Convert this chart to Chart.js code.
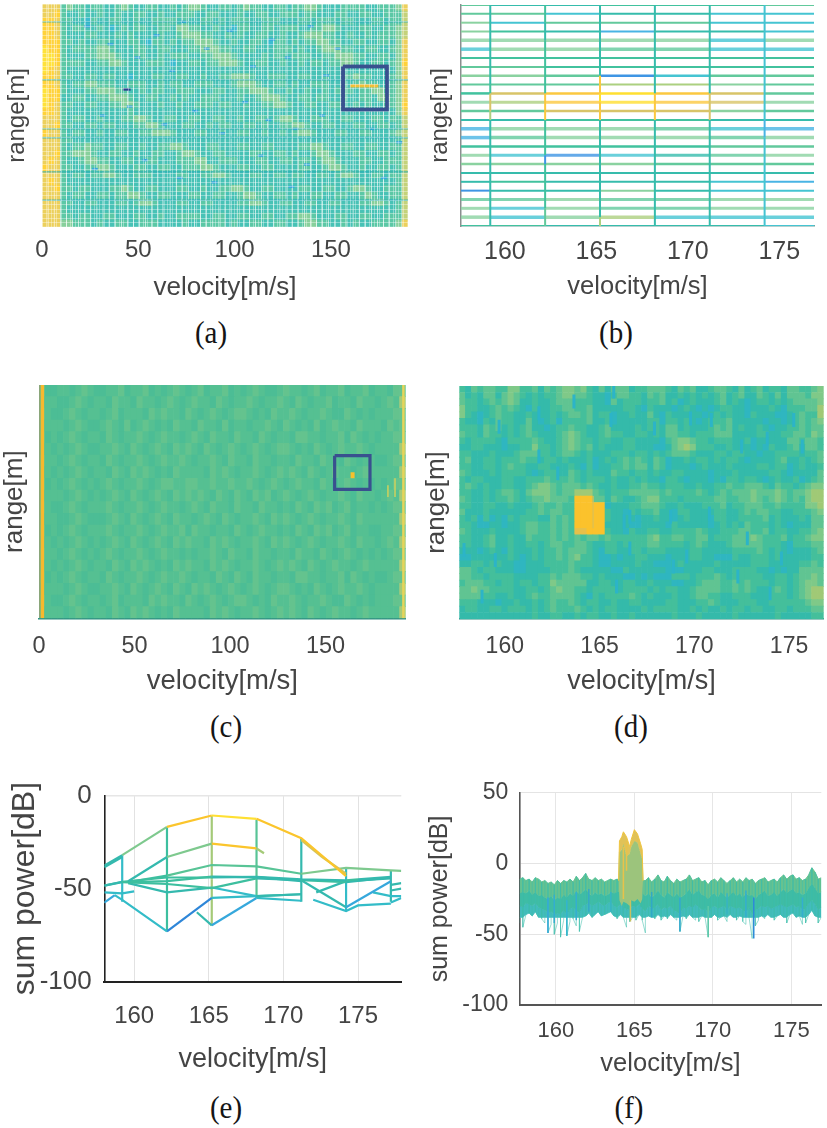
<!DOCTYPE html>
<html><head><meta charset="utf-8">
<style>
html,body{margin:0;padding:0;background:#fff;width:827px;height:1128px;overflow:hidden}
canvas{position:absolute;display:block;filter:blur(.7px)}
.cap{position:absolute;font:29px "Liberation Serif",serif;color:#151515;transform:translate(-50%,-50%) scaleY(1.08);line-height:1}
</style>
<script src="https://cdn.jsdelivr.net/npm/chart.js"></script>
</head><body>
<div class="cap" style="left:211px;top:333px">(a)</div>
<div class="cap" style="left:616px;top:333px">(b)</div>
<div class="cap" style="left:226px;top:727px">(c)</div>
<div class="cap" style="left:631px;top:727px">(d)</div>
<div class="cap" style="left:226px;top:1108px">(e)</div>
<div class="cap" style="left:629px;top:1108px">(f)</div>
<script>
const palette={'0':'#2e86d8','1':'#36a8dc','2':'#33bcc8','3':'#34b9ae','4':'#3dbf9f','5':'#58c496','6':'#7ec98e','7':'#a4ca78','8':'#d4c45a','9':'#fbc52c','a':'#ffe033'};
const paletteA={'2':'#3cbcd0','3':'#48c2b6','4':'#5cc8a6','5':'#88d09c','6':'#a4d48c','7':'#c4d27a','8':'#ecd05c','9':'#ffd23a','a':'#ffe23a'};
const paletteB={'0':'#3f95e4','1':'#48b4e4','2':'#45c4d2','3':'#36bcac','4':'#42c29e','5':'#62c99c','6':'#8ad2a0','7':'#acd080','8':'#d8c468','9':'#fbc840','a':'#ffdf30'};
const paletteC={'3':'#47bb98','4':'#4cbd95','5':'#55c092','6':'#64c38e'};
const paletteD={'2':'#2fb6c0','3':'#34baaa','4':'#44bf9b','5':'#60c492','6':'#7fc988','7':'#a0c976','8':'#e6c04a','9':'#fbc22c'};

const ticksA=[0,50,100,150], ticksF=[160,165,170,175];
const heatA=[
"8884544344 3345433443 3434554334 4345443344 3445543334 4443344458",
"8894334334 3343344334 3344433443 3343344334 4434433344 3344334447",
"9984433243 3443343344 4434334434 3444334443 3344344434 4333443447",
"9984344334 3234344334 4355443343 3244334434 4433445543 3344334457",
"9984333443 3343433334 3345554433 4343344334 3345554433 4334344457",
"9994434334 4333443244 3434455543 3433443244 3434455443 3443344358",
"a994344445 5433344334 4333445554 4334433344 4343345554 4334433458",
"aa94333445 5543344334 3444334455 5433334344 3444334455 5443344358",
"aa94444334 4554333444 3233443445 5543344334 3343443445 5433443459",
"a984333333 3333333333 3333333333 3333333333 3333333333 3333333358",
"9984433443 4433233344 3344334334 4555433444 3344334334 4544333458",
"9984344554 4433444334 3443344433 3455543344 3433444334 3454433458",
"a994333445 5544334344 3344433344 3344555433 4334334344 4344554458",
"a993344334 4555433443 3434334443 3343345554 3344344334 3344355458",
"a984433443 3445543334 3343344434 4334334455 4334433443 3434334459",
"9984333333 3333433333 3333333333 3333333333 3333333333 3333333358",
"8884344334 3334455433 4433443344 3343344345 5433444334 4333443447",
"8894433443 4433344554 3334433434 4334434334 4554334433 3443344347",
"9884344334 3344334455 5433344334 3344334334 3455433344 3344333457",
"8884433333 3333333333 3333333333 3333333333 3333333333 3333333347",
"8884344544 3344334334 4554333443 3344334433 3344554334 4334433447",
"8894455543 3443343344 3345543344 3333443344 3433455433 3443344347",
"8984334554 4334433443 3344455334 4433344334 4344345543 3344334447",
"9884433445 5433344334 4334445543 3344334433 3344334554 3343344347",
"8884344344 5543344433 3344334455 4333443344 3443344345 5433443447",
"8984333333 3333333333 3333333333 3333333333 3333333333 3333333347",
"8894434433 3445433443 3344334334 4554334433 3344334433 4554334447",
"8884344334 4344554334 4333443344 3345543344 3433443344 3345433447",
"8884433443 3344345543 3344334433 3344554334 4334433443 3344554347",
"8884333333 3333333333 3333333333 3333333333 3333333333 3333333347",
"8884434433 4433344334 3344443344 3344334433 4455433344 3344334447",
"8885544434 3344334443 3334334444 3433443344 3345544334 3433444458"
];
const specksXA=[22,34,48,58,66,72,84,96,108,118,126,138,146,152,30,44,62,78,92,104,116,130,144,170,184,26,52,70,88,112,128,136,176];
const specksYA=[90,82,76,86,70,92,80,88,72,84,76,90,68,80,50,54,46,52,42,56,48,44,50,44,38,26,30,22,20,32,18,28,22];
const heatC=[
"5445545654 4556455645 4565456455 6454565445 6554564556 4556455466",
"4554456545 5465546554 5654565546 5455654556 5465455645 5465545657",
"5544565455 4564555465 6554654565 4566545465 5654556544 6545455566",
"4555456544 5654645654 5465546554 6455455654 6545464565 5465554656",
"5454565455 4654556545 6554565465 5465546545 5466554556 4654545566",
"4545456544 5565465456 5465654654 5654565456 6545465456 5565455557",
"5554565455 4654556545 6556545565 4655465545 5465546554 6545544566",
"4545456545 5465465654 5465555465 6545565456 5654654565 5456555557",
"5454565454 5654556545 6655665565 5655654565 4565546545 6545454566",
"4555456545 4565465456 5465656546 5465465645 6545654556 5465545657",
"5544565455 5654556545 6554565465 5465546554 5465465645 6455454566",
"4554456544 4565465456 5465545654 6545565465 6545654556 5465555557",
"5454565455 5654556545 6556465545 5465456554 5465465645 6455445566",
"4545456545 4565465456 5465655465 6545565465 6545654556 5465545657",
"5554565454 5654556545 6554545565 4655465545 5465546545 6545454566",
"4545456545 5465465654 5465655465 6545565456 5654654565 5456555557",
"5454565455 4654556545 6556545546 5465465545 5466554556 4654544566",
"4555456544 5565465456 5465465654 5654565456 6545465456 5565455557",
"5544565455 4564555465 6554654565 4566545465 5654556544 6545455566",
"4555456545 5465465654 5465555465 6545565456 5654654565 5456555557"
];
const heatD=[
"4354554466 4453545665 6435355534 4555435453 3455435345 3443554456",
"5343553565 4343445665 5433245544 3545334343 4345345335 4353555466",
"5443454565 3343345554 4433253444 3445342343 3345343234 4343455556",
"6443345454 3243344554 4533333443 2433323432 3234433233 3432444557",
"6432345443 3433343455 4534423343 3532433333 2343433243 3322345447",
"4332435443 3532342444 4533423333 3442443432 3444533333 2332345456",
"4443545343 4533234454 4334533334 3443553433 3454534334 3233445455",
"5443544343 4543334565 4334544334 4343554434 4455533334 4334455465",
"4344443244 4454334565 4434433443 3332456654 4344433423 3333554554",
"3344333233 4464434565 4534333443 3322356764 4433433323 2433453554",
"4433343334 5554434554 3433344434 4343455543 3344344332 3344443445",
"4533443444 5443443433 3423434545 4354233434 4343443233 3345334345",
"4433443454 4334433343 2423344545 5354233323 4333433334 4344234334",
"5433343444 4323443354 3433354434 4343344333 3233343333 3443233335",
"4344333443 3444544454 3444343343 4332443233 3232443443 2343342345",
"4543433443 3456654555 4543343344 5443444334 3344544555 4354434566",
"4433434554 3566654557 7754344455 5554544445 4345455565 5565455677",
"5433434454 3455655549 9955354334 5664443444 4455445565 4565454677",
"4433443343 3345445449 9999233344 5554334333 4445344555 4454444667",
"5333433333 3445455449 9999433243 4453324433 3344334545 5443344456",
"4342423243 4443354549 9999433332 3343323433 3244334444 5343334355",
"4432233233 4554454549 9999333322 3333243333 3234343544 4343233355",
"5433343333 4554454548 8999433243 3443344445 4334445544 5344334456",
"4433453343 3544454545 4554544444 4564455445 5344455565 4445344566",
"4433453343 3443455445 5433443444 4554444345 4333455555 4443244455",
"3332343243 3343445455 5432443344 3444333344 3333344445 4343233345",
"2233333343 2343445456 4432232334 4333233344 3322243344 4343333344",
"3344344332 2333444454 4432233334 3322234333 3343333344 4333334454",
"5543443332 2333344454 3333322433 3333222333 4433344443 3232335555",
"5544344443 3334454555 4434333223 2322244434 4454344444 3344345565",
"4555443443 4434465555 5334433443 3433322334 5554454544 4344345665",
"5565544443 3443456554 4344443444 4343443345 5554454543 3454345677",
"5555443343 3454455554 3243444454 3433343345 5443344433 3444345677",
"4443332334 3343454454 3443343344 3333443334 4543334443 3444444566",
"3443344344 4343454445 4343443333 4344443343 4334344344 3344344455",
"3333333333 3343344334 3443343343 3333343334 3333343333 3343333344"
];
const seamD={x:[164.66,164.66],y:[38.9,52.8]};
const streakXD=[157.85,159.7,161.8,161.8,162.8,165.6,167.9,169.8,170.9,172.5,173.85,175.7,166.6,168.9,169.6,172.3,174,174.6,165.9,158.8,163.65,165.75,175.25,159.5,168.75,170.8,172.8,166.6,166.3];
const streakYD=[29.6,82.5,88.3,69.7,62.5,85.4,81.8,86.1,85.4,74,77.5,74,30.3,22.5,26.8,18.2,11,26,13.9,9.6,93.3,97.6,85.4,25.3,43.9,45.3,34.6,43.9,41.8];

const rowsB=["5334445","5523322","6255522","6431332","6666626","2665522","4444444","5544444","6650255","5557765",
"489a985","679a986","5588865","3344433","1666521","1566656","4444455","6202356","6666555","3333333","3433321","0336322","5565566","6265566","6267222","4433332"];
const widthB=[2,2,2,2,3.5,3.5,2,2,2.5,2,2.5,3,2.5,2,3.5,3.5,2.5,3,2.5,2,2,2,3,3,3.5,2];
const breaksB=[157.6,159.2,162.2,165.2,168.2,171.2,174.2,176.9];
const vertXB=[159.2,162.2,165.2,168.2,171.2,174.2];
const vertB=[
"3333333334887333333333333",
"4433444444999444404444455",
"3333333399a99333333333337",
"3333333333999333333333333",
"3333333333888333333333333",
"2222222222222112222222222"];

const ySeriesE=[
 {x:[158,159.2,162.2,165.2,168.2,171.2,174.2],y:[-37.6,-32,-16.8,-10.7,-12.5,-22.9,-43.3],c:"369a99"},
 {x:[158,159.2],y:[-38.5,-33],c:"3"},
 {x:[159.6,162.2,165.2,168.2,168.7],y:[-46,-33,-25.8,-28.4,-31],c:"3697"},
 {x:[171.2,172.6,174.2],y:[-24,-33,-42],c:"88"},
 {x:[159.6,162.2,165.2,168.2,171.2,174.2,177.2,177.9],y:[-46.5,-43,-37.3,-38,-42,-38.8,-40.2,-40.5],c:"4555666"},
 {x:[158,159.2,162.2,165.2,168.2,171.2,174.2,175,177.2],y:[-48.4,-46.3,-44,-44,-43.7,-45,-45.5,-45,-43.7],c:"34433343"},
 {x:[158,159.2,162.2,165.2,168.2,171.2,174.2,177.2],y:[-48.4,-46.5,-47.5,-49.7,-44.5,-45.5,-46.5,-44],c:"3444343"},
 {x:[160,162.2,165.2,168.2,171.2],y:[-46.5,-46,-43.5,-43.8,-46],c:"4433"},
 {x:[159.6,162.2,165.2,168.2,171.2],y:[-47,-52,-49.4,-54,-53],c:"3323"},
 {x:[158,159.2,160],y:[-52,-52.5,-51.5],c:"22"},
 {x:[158,158.7,159.2,162.2],y:[-57.5,-53.5,-56,-73],c:"122"},
 {x:[162.2,165.2,168.2,171.2],y:[-73,-55,-54,-53],c:"023"},
 {x:[164.2,165.2,168.2,171.2],y:[-62.7,-69.7,-55,-56.5],c:"312"},
 {x:[171.2,174.2,177.2],y:[-45.5,-60,-46],c:"31"},
 {x:[172,174.2,175,177.2],y:[-56,-62,-59,-58],c:"222"},
 {x:[172.2,174.2,177.2],y:[-52,-46,-44.5],c:"33"},
 {x:[176,177.2,177.9],y:[-52,-54,-54],c:"22"},
 {x:[177.2,177.9],y:[-48,-47],c:"3"},
 {x:[177.2,177.9],y:[-51,-50],c:"3"},
 {x:[177.2,177.9],y:[-57.5,-55],c:"2"},
 {x:[159.2,159.2],y:[-32,-57],c:"2"},
 {x:[162.2,162.2],y:[-17,-73],c:"4"},
 {x:[165.2,165.2],y:[-11,-45],c:"7"},
 {x:[165.2,165.2],y:[-45,-70],c:"7"},
 {x:[168.2,168.2],y:[-13,-55],c:"5"},
 {x:[171.2,171.2],y:[-23,-57],c:"3"},
 {x:[174.2,174.2],y:[-39,-62],c:"2"},
 {x:[177.2,177.2],y:[-40,-57],c:"3"}
];

const xF=[157.7,157.9,158.1,158.3,158.5,158.7,158.9,159.1,159.3,159.5,
159.7,159.9,160.1,160.3,160.5,160.7,160.9,161.1,161.3,161.5,
161.7,161.9,162.1,162.3,162.5,162.7,162.9,163.1,163.3,163.5,
163.7,163.9,164.1,164.3,164.5,164.7,164.9,165.1,165.3,165.5,
165.7,165.9,166.1,166.3,166.5,166.7,166.9,167.1,167.3,167.5,
167.7,167.9,168.1,168.3,168.5,168.7,168.9,169.1,169.3,169.5,
169.7,169.9,170.1,170.3,170.5,170.7,170.9,171.1,171.3,171.5,
171.7,171.9,172.1,172.3,172.5,172.7,172.9,173.1,173.3,173.5,
173.7,173.9,174.1,174.3,174.5,174.7,174.9,175.1,175.3,175.5,
175.7,175.9,176.1,176.3,176.5,176.7,176.9];
const topF=[-11,-10,-12,-11,-13,-10,-11,-13,-12,-14,
-13,-15,-12,-14,-12,-13,-11,-13,-9,-12,
-10,-7,-11,-12,-10,-12,-11,-13,-12,-11,
-12,-11,-12,-10,-11,-12,-11,-12,-10,-12,
-12,-10,-13,-11,-8,-12,-13,-9,-12,-14,
-11,-13,-12,-11,-8,-12,-11,-10,-13,-12,
-15,-12,-11,-13,-10,-12,-14,-12,-10,-13,
-11,-13,-10,-12,-11,-14,-12,-11,-10,-13,
-12,-11,-13,-10,-8,-11,-9,-8,-11,-10,
-12,-11,-8,-3,-6,-11,-10];
const mid1F=[-21,-20,-21,-19,-22,-20,-23,-22,-24,-25,
-23,-26,-24,-25,-22,-24,-21,-23,-19,-22,
-20,-18,-21,-23,-20,-22,-21,-23,-22,-20,
-21,-20,-20,-18,-19,-20,-18,-20,-19,-21,
-23,-21,-24,-22,-19,-22,-24,-20,-22,-24,
-21,-24,-23,-21,-18,-22,-20,-19,-22,-23,
-25,-22,-21,-24,-20,-22,-24,-22,-20,-23,
-21,-24,-21,-23,-22,-25,-22,-21,-19,-23,
-22,-20,-23,-20,-18,-21,-19,-18,-21,-20,
-22,-21,-17,-14,-17,-21,-20];
const mid2F=[-30,-31,-28,-29,-30,-28,-31,-32,-33,-35,
-34,-36,-35,-36,-33,-36,-32,-31,-33,-35,
-30,-29,-28,-30,-29,-27,-29,-30,-28,-27,
-30,-31,-29,-30,-33,-32,-30,-31,-29,-32,
-34,-30,-32,-31,-29,-33,-31,-32,-30,-33,
-34,-36,-31,-32,-30,-31,-29,-31,-33,-32,
-35,-31,-30,-32,-31,-30,-33,-30,-31,-32,
-31,-33,-34,-31,-36,-33,-32,-30,-31,-30,
-32,-31,-30,-29,-30,-31,-30,-29,-31,-30,
-33,-32,-28,-26,-29,-33,-31];
const lowF=[-42,-45,-36,-35,-37,-34,-38,-39,-42,-49,
-43,-50,-42,-52,-40,-51,-41,-39,-44,-48,
-38,-37,-35,-38,-36,-34,-37,-36,-35,-34,
-37,-39,-36,-38,-45,-41,-38,-40,-36,-40,
-49,-37,-38,-39,-36,-40,-37,-39,-36,-38,
-40,-48,-37,-39,-36,-38,-40,-41,-37,-38,
-52,-38,-36,-40,-38,-37,-41,-36,-38,-40,
-37,-41,-43,-38,-53,-44,-40,-37,-39,-36,
-38,-40,-37,-36,-38,-42,-36,-35,-38,-37,
-43,-42,-36,-33,-37,-42,-38];
const xPk=[164,164.05,164.2,164.3,164.5,164.7,164.8,165,165.2,165.4,165.5,165.55];
const pkTop=[-12,16,19,22.5,19,12,17,24,21,14,10,-12];
const pkMid=[-12,8,10,14,5,7,12,16,15,7,3,-12];
const pkFloor=[-12,-26,-30,-27,-28,-30,-26,-27,-25,-28,-25,-12];
const streaksF=[
 {x:[164.3,164.3],y:[12,-25],c:'#e8c24a'},{x:[164.75,164.75],y:[-26,-41],c:'#c8c060'},
 {x:[164.5,164.5],y:[16,-5],c:'#e8c24a'},{x:[172.6,172.6],y:[-24,-53],c:'#2e8ad8'},
 {x:[169.7,169.7],y:[-30,-52],c:'#5cc8a8'},{x:[159.5,159.5],y:[-24,-49],c:'#36a8dc'},
 {x:[160.7,160.7],y:[-26,-51],c:'#33b4d0'},{x:[167.9,167.9],y:[-24,-48],c:'#33a8d0'},
 {x:[162.1,162.1],y:[-18,-34],c:'#36a8c8'},{x:[166.1,166.1],y:[-20,-38],c:'#30a8c8'},
 {x:[159.9,159.9],y:[-22,-42],c:'#34aed0'},{x:[161.3,161.3],y:[-20,-40],c:'#34aed0'},
 {x:[163.5,163.5],y:[-20,-34],c:'#38b4c4'},{x:[170.9,170.9],y:[-21,-36],c:'#38b4c4'},
 {x:[172.1,172.1],y:[-19,-38],c:'#34aed0'},{x:[175.7,175.7],y:[-24,-38],c:'#34aed0'}];

const boxA={x:[156.3,179.1,179.1,156.3,156.3],y:[72,72,52.7,52.7,72]};
const targetA={x:[160,174.6],y:[63.3,63.3]};
const speckA={x:[42,46],y:[61.7,61.7]};
const darkRowsA=[92,66,44,40,24.7,12];
const boxC={x:[154.8,173.3,173.3,154.8,154.8],y:[69.7,69.7,55.3,55.3,69.7]};
const targetC={x:[164.2,164.2],y:[60,62.6]};
const marksC=[{x:[182.7,182.7],y:[57,52]},{x:[186.4,186.4],y:[60,52]}];

function heatData(rows,xMin,xMax,yMin,yMax,pal=palette){
  const clean=rows.map(r=>r.replace(/ /g,''));
  const nr=clean.length,nc=clean[0].length,dx=(xMax-xMin)/nc,dy=(yMax-yMin)/nr;
  const data=[],colors=[];
  clean.forEach((r,i)=>{for(let j=0;j<r.length;j++){
    const hi=yMax-i*dy;
    data.push({x:xMin+(j+.5)*dx,y:[hi-dy,hi]});colors.push(pal[r[j]]||palette[r[j]]);
  }});
  return {type:'bar',data,backgroundColor:colors,barPercentage:1,categoryPercentage:1,grouped:false,borderWidth:0,order:5};
}
function line(x,y,color,w,order=1,extra={}){
  return Object.assign({type:'line',data:x.map((v,i)=>({x:v,y:y[i]})),borderColor:color,borderWidth:w,pointRadius:0,tension:0,fill:false,order,borderCapStyle:'butt',borderJoinStyle:'miter'},extra);
}
function segLine(x,y,chars,w,order=1,pal=palette,alpha=''){
  const cs=chars.replace(/ /g,'');
  return line(x,y,pal[cs[0]]+alpha,w,order,{segment:{borderColor:c=>pal[cs[c.p0DataIndex]||cs[cs.length-1]]+alpha}});
}
const redrawOnTop={id:'redrawOnTop',afterDraw(chart){
  chart.data.datasets.forEach((d,i)=>{if(d.onTop){chart.getDatasetMeta(i).controller.draw();}});
}};

function make(id,g,datasets,o={}){
  const cv=document.createElement('canvas');
  cv.width=g.w;cv.height=g.h;cv.style.left=g.cl+'px';cv.style.top=g.ct+'px';cv.style.width=g.w+'px';cv.style.height=g.h+'px';
  cv.id=id;document.body.appendChild(cv);
  const L=g.L-g.cl,R=g.R-g.cl,T=g.T-g.ct,B=g.B-g.ct;
  new Chart(cv,{type:o.type||'bar',data:{datasets},plugins:[redrawOnTop],options:{
    responsive:false,animation:false,devicePixelRatio:1,
    layout:{padding:{left:0,top:T,right:g.w-R,bottom:0}},
    plugins:{legend:{display:false},tooltip:{enabled:false},title:{display:false}},
    scales:{
      x:{type:'linear',offset:false,min:g.xMin,max:g.xMax,
        afterFit:s=>{s.height=g.h-B;s.paddingLeft=0;s.paddingRight=0},
        grid:Object.assign({offset:false,drawTicks:false,display:!!o.xGrid},o.xGrid||{}),
        border:o.xBorder||{display:false},
        ticks:{stepSize:o.xStep||5,includeBounds:false,autoSkip:false,maxRotation:0,minRotation:0,color:'#444',
          padding:g.tickY-g.B-g.tickFont/2,font:{family:'"Liberation Sans"',size:g.tickFont,lineHeight:1},
          callback:v=>(g.labels.includes(v)?String(v):'')},
        title:{display:true,text:'velocity[m/s]',color:'#444',font:{family:'"Liberation Sans"',size:g.xFont,lineHeight:1},
          padding:{top:0,bottom:g.h-(g.titleY-g.ct)-g.xFont/2}}
      },
      y:{type:'linear',min:g.yMin,max:g.yMax,
        afterFit:s=>{s.width=L},
        grid:Object.assign({drawTicks:false,display:!!o.yGrid},o.yGrid||{}),
        border:o.yBorder||{display:false},
        ticks:o.yTicks?{stepSize:o.yTicks,includeBounds:false,color:'#444',padding:g.L-g.tickR,
              font:{family:'"Liberation Sans"',size:g.tickFontY||g.tickFont,lineHeight:1}}
            :{display:false,stepSize:o.yStep||10},
        title:{display:true,text:g.yTitle,color:'#444',font:{family:'"Liberation Sans"',size:g.yFont,lineHeight:1},
          padding:{top:g.titleX-g.cl-g.yFont/2,bottom:0}}
      }
    }
  }});
}

const lattice='rgba(255,255,255,.36)';
// (a)
make('a',{cl:0,ct:0,w:414,h:310,L:42,R:408,T:4,B:227,xMin:0,xMax:190,yMin:0,yMax:100,labels:ticksA,tickY:250.7,tickFont:24,titleY:288,xFont:26,titleX:17.3,yFont:24,yTitle:'range[m]'},
 [heatData(heatA,0,190,0,100,paletteA),
  ...darkRowsA.map(v=>line([0,190],[v,v],'rgba(30,170,180,.7)',1.4,3)),
  ...specksXA.map((v,i)=>line([v,v+3],[specksYA[i],specksYA[i]],'#38a8dc',2.4,3)),
  line(targetA.x,targetA.y,'#f2bf38',3.2,2),
  line(speckA.x,speckA.y,'#2a3f8f',2.5,2),
  line(boxA.x,boxA.y,'#39508f',3.5,0,{onTop:true})],
 {xStep:2.5,yStep:2,xGrid:{color:lattice,lineWidth:1,z:1},yGrid:{color:lattice,lineWidth:1,z:1}});

// (b)
const rowSets=rowsB.map((r,i)=>segLine(breaksB,breaksB.map(()=>25-i),r,widthB[i],2,paletteB,widthB[i]>=3?'cc':''));
const vertSets=vertXB.map((v,k)=>{
  const ys=[];for(let i=0;i<=25;i++)ys.push(25-i);
  return segLine(ys.map(()=>v),ys,vertB[k],2,1,paletteB);
});
make('b',{cl:414,ct:0,w:413,h:310,L:461,R:814,T:5,B:226,xMin:157.6,xMax:176.9,yMin:0,yMax:25,labels:ticksF,tickY:252,tickFont:25,titleY:287,xFont:25.5,titleX:440.7,yFont:24,yTitle:'range[m]'},
 [...rowSets,...vertSets],
 {type:'line',yBorder:{display:true,color:'#8a8f8f',width:1.5},xBorder:{display:true,color:'#6fa5a0',width:1.5}});

// (c)
make('c',{cl:0,ct:375,w:414,h:320,L:39,R:405.7,T:385,B:618.3,xMin:0,xMax:192,yMin:0,yMax:100,labels:ticksA,tickY:646.7,tickFont:23.5,titleY:681.7,xFont:27.5,titleX:15,yFont:26,yTitle:'range[m]'},
 [heatData(heatC,0,192,0,100,paletteC),
  line([1.8,1.8],[0,100],'#f7b92e',3.5,3),
  line([0.3,0.3],[0,100],'#8aa67a',1.5,3),
  line([190.8,190.8],[0,100],'#e6d45a',2.5,3),
  line(targetC.x,targetC.y,'#f7c02c',4,2),
  ...marksC.map(m=>line(m.x,m.y,'#c8d060',1.6,2)),
  line(boxC.x,boxC.y,'#39508f',3.2,0)],
 {xBorder:{display:true,color:'#2f8f82',width:1.5}});

// (d)
make('d',{cl:414,ct:375,w:413,h:320,L:459.3,R:823.7,T:386,B:619,xMin:157.6,xMax:176.83,yMin:0,yMax:100,labels:ticksF,tickY:646.7,tickFont:23,titleY:681.7,xFont:27,titleX:436.7,yFont:26,yTitle:'range[m]'},
 [heatData(heatD,157.6,176.83,0,100,paletteD),
  ...streakXD.map((v,i)=>line([v,v],[streakYD[i]-3,streakYD[i]+3],'#2cb4c8',3,3)),
  line(seamD.x,seamD.y,'#d9c058',1.2,2)],
 {xBorder:{display:true,color:'#2f8f82',width:1.5}});

// (e)
make('e',{cl:0,ct:770,w:414,h:330,L:104.3,R:401.3,T:789.3,B:981.7,xMin:158,xMax:177.9,yMin:-100,yMax:0,labels:ticksF,tickY:1016.7,tickFont:24,tickFontY:26,tickR:91.7,titleY:1060,xFont:27,titleX:25,yFont:32,yTitle:'sum power[dB]'},
 ySeriesE.map(s=>segLine(s.x,s.y,s.c,2.2,1)),
 {type:'line',yTicks:50,xGrid:{color:'#e2e2e2',lineWidth:1},yGrid:{color:c=>c.tick.value===0?'#e6e6e6':'rgba(0,0,0,0)',lineWidth:1.5},
  yBorder:{display:true,color:'#222',width:1.6},xBorder:{display:true,color:'#222',width:2}});

// (f)
const floorF=lowF.map(v=>Math.max(v,-38));
const zigX=[],zigY=[];
xF.forEach((v,i)=>{zigX.push(v,v);zigY.push(i%2?topF[i]:lowF[i],i%2?lowF[i]:topF[i]);});
const bandF=[
 line(xF,topF,'#6cc48e',1,3,{fill:'+1',backgroundColor:'#66c290'}),
 line(xF,mid1F,'#46bc9e',1,3,{fill:'+1',backgroundColor:'#3fbca4'}),
 line(xF,mid2F,'#3fb5bd',1,3,{fill:'+1',backgroundColor:'#42bcbc'}),
 line(xF,floorF,'#5cc6c6',1,3),
 line(zigX,zigY,'rgba(62,190,172,.6)',.9,2.5)];
const peakF=[
 line(xPk,pkTop,'#f0c43e',1,2,{fill:'+1',backgroundColor:'#e0c258'}),
 line(xPk,pkMid,'#a8c674',1,2,{fill:'+1',backgroundColor:'#9cc47c'}),
 line(xPk,pkFloor,'rgba(0,0,0,0)',0,2)];
make('f',{cl:414,ct:770,w:413,h:330,L:519.7,R:821.3,T:785,B:1005,xMin:157.7,xMax:176.9,yMin:-100,yMax:50,labels:ticksF,tickY:1030.7,tickFont:22,tickFontY:23,tickR:508.3,titleY:1064.3,xFont:25.5,titleX:440,yFont:25,yTitle:'sum power[dB]'},
 [...bandF,...peakF,...streaksF.map(s=>line(s.x,s.y,s.c,1.5,1))],
 {type:'line',yTicks:50,xGrid:{color:'#e6e6e6',lineWidth:1},yGrid:{color:'#e4e4e4',lineWidth:1,borderDash:[2,2]},
  yBorder:{display:true,color:'#555',width:1.6},xBorder:{display:true,color:'#555',width:2}});
</script>
</body></html>
